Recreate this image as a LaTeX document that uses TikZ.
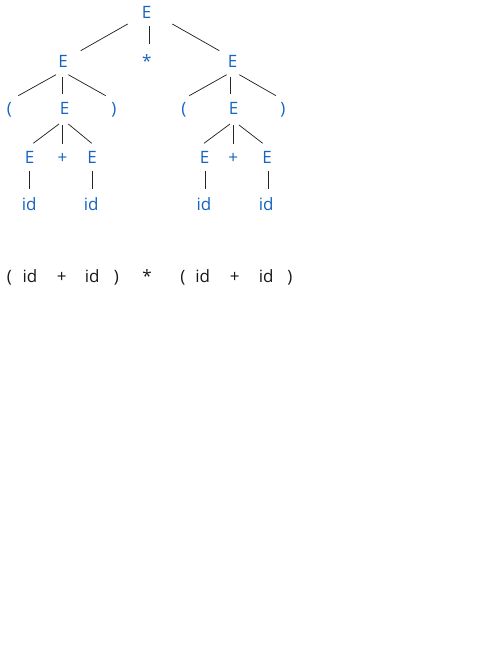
\documentclass[tikz,border=0pt]{standalone}
\usepackage{fontspec}
\setmainfont{Open Sans}
\definecolor{treeblue}{HTML}{1565C0}
\begin{document}
\begin{tikzpicture}[x=1pt,y=-1pt,
  sym/.style={anchor=base, inner sep=0pt, text=treeblue, font=\fontsize{17}{20}\selectfont},
  plain/.style={anchor=base, inner sep=0pt, text=black!90, font=\fontsize{17}{20}\selectfont},
  edge/.style={draw=black!85, line width=0.75pt}]
\useasboundingbox (0,0) rectangle (500,647);
% tree nodes
\node[sym] (r) at (146.7,19) {E};
\node[sym] (a) at (63,67.5) {E};
\node[sym] (s) at (146.7,67.5) {*};
\node[sym] (b) at (232.7,67.5) {E};
\node[sym] (a1) at (9.5,115) {(};
\node[sym] (a2) at (64.7,115) {E};
\node[sym] (a3) at (113.8,115) {)};
\node[sym] (b1) at (183.8,115) {(};
\node[sym] (b2) at (233.7,115) {E};
\node[sym] (b3) at (283,115) {)};
\node[sym] (c1) at (29.7,163.3) {E};
\node[sym] (c2) at (62.5,163.3) {+};
\node[sym] (c3) at (92.2,163.3) {E};
\node[sym] (d1) at (204.5,163.3) {E};
\node[sym] (d2) at (233.3,163.3) {+};
\node[sym] (d3) at (267,163.3) {E};
\node[sym] (e1) at (29.3,210.7) {id};
\node[sym] (e2) at (91.2,210.7) {id};
\node[sym] (f1) at (204,210.7) {id};
\node[sym] (f2) at (266.3,210.7) {id};
% bottom sentence
\node[plain] (t1) at (9.5,282.7) {(};
\node[plain] (t2) at (30,282.7) {id};
\node[plain] (t3) at (61.7,282.7) {+};
\node[plain] (t4) at (92.2,282.7) {id};
\node[plain] (t5) at (116.5,282.7) {)};
\node[plain] (t6) at (147,282.7) {*};
\node[plain] (t7) at (183,282.7) {(};
\node[plain] (t8) at (202.7,282.7) {id};
\node[plain] (t9) at (234.7,282.7) {+};
\node[plain] (t10) at (266.3,282.7) {id};
\node[plain] (t11) at (290,282.7) {)};
% connectors
\draw[edge] ([shift={(-19,5)}]r.base) -- ([shift={(17.7,-16.8)}]a.base);
\draw[edge] ([shift={(2.3,7)}]r.base) -- ([shift={(2.3,-23.5)}]s.base);
\draw[edge] ([shift={(25.6,5)}]r.base) -- ([shift={(-13.4,-16.8)}]b.base);
\draw[edge] ([shift={(-7,7.2)}]a.base) -- ([shift={(8.8,-19.3)}]a1.base);
\draw[edge] ([shift={(-0.7,9.2)}]a.base) -- ([shift={(-2.4,-21)}]a2.base);
\draw[edge] ([shift={(5.3,7.2)}]a.base) -- ([shift={(-8.1,-19.3)}]a3.base);
\draw[edge] ([shift={(-6,7.2)}]b.base) -- ([shift={(5.5,-19.3)}]b1.base);
\draw[edge] ([shift={(-2.7,9.2)}]b.base) -- ([shift={(-3.7,-21)}]b2.base);
\draw[edge] ([shift={(6.6,7.2)}]b.base) -- ([shift={(-7,-19.3)}]b3.base);
\draw[edge] ([shift={(-5.7,9)}]a2.base) -- ([shift={(3.6,-20)}]c1.base);
\draw[edge] ([shift={(-2.4,10)}]a2.base) -- ([shift={(-0.2,-19.3)}]c2.base);
\draw[edge] ([shift={(3.6,9)}]a2.base) -- ([shift={(-0.5,-20)}]c3.base);
\draw[edge] ([shift={(-3.7,9)}]b2.base) -- ([shift={(-0.5,-20)}]d1.base);
\draw[edge] ([shift={(-0.4,10)}]b2.base) -- ([shift={(0,-19.3)}]d2.base);
\draw[edge] ([shift={(5.3,10)}]b2.base) -- ([shift={(-4.3,-20)}]d3.base);
\draw[edge] ([shift={(-0.4,7.4)}]c1.base) -- ([shift={(0,-21.4)}]e1.base);
\draw[edge] ([shift={(0.1,7.4)}]c3.base) -- ([shift={(1.1,-21.4)}]e2.base);
\draw[edge] ([shift={(0.5,7.4)}]d1.base) -- ([shift={(1,-21.4)}]f1.base);
\draw[edge] ([shift={(1.3,7.4)}]d3.base) -- ([shift={(2,-21.4)}]f2.base);
\end{tikzpicture}
\end{document}
